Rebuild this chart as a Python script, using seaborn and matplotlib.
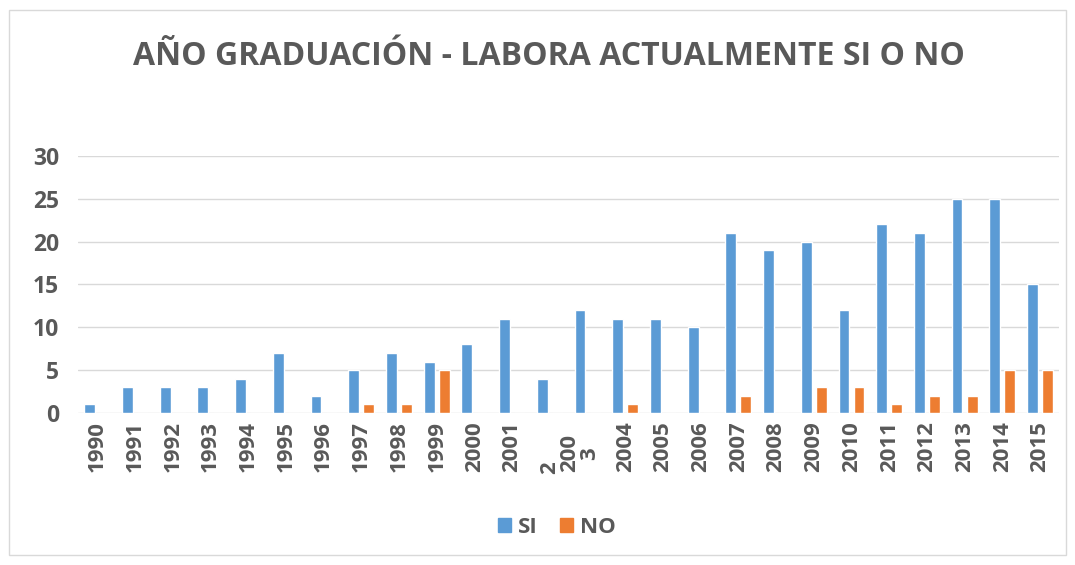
import pandas as pd
import matplotlib.pyplot as plt
import matplotlib.patches as mpatches
import matplotlib.transforms as mtransforms
import seaborn as sns

# data
years = [str(y) for y in range(1990, 2016)]
tick_labels = years.copy()
tick_labels[12] = "2"        # 2002 label is clipped in the original
tick_labels[13] = "200\n3"   # 2003 label wraps in the original
si = [1, 3, 3, 3, 4, 7, 2, 5, 7, 6, 8, 11, 4, 12, 11, 11, 10, 21, 19, 20, 12, 22, 21, 25, 25, 15]
no = [0, 0, 0, 0, 0, 0, 0, 1, 1, 5, 0, 0, 0, 0, 1, 0, 0, 2, 0, 3, 3, 1, 2, 2, 5, 5]

df = pd.DataFrame({'year': years * 2,
                   'value': si + no,
                   'serie': ['SI'] * len(years) + ['NO'] * len(years)})

sns.set_style("white")
plt.rcParams['font.family'] = ['Open Sans', 'DejaVu Sans']
gray = '#595959'

fig = plt.figure(figsize=(10.75, 5.65), dpi=100)
ax = fig.add_axes([0.073, 0.269, 0.912, 0.455])

sns.barplot(data=df, x='year', y='value', hue='serie', order=years,
            palette={'SI': '#5B9BD5', 'NO': '#ED7D31'}, saturation=1,
            width=0.8, gap=0.28, ax=ax, legend=False)

ax.set_ylim(0, 30)
ax.set_yticks(range(0, 31, 5))
ax.yaxis.grid(True, color='#D9D9D9', linewidth=1)
ax.set_axisbelow(True)
ax.set_xticks(range(len(years)))
ax.set_xticklabels(tick_labels, rotation=90, fontsize=16, fontweight='bold', color=gray,
                   linespacing=0.9)
ax.tick_params(axis='y', labelsize=16.5, labelcolor=gray, length=0, pad=14)
ax.tick_params(axis='x', length=0, pad=6)
for lab in ax.get_yticklabels():
    lab.set_fontweight('bold')

# the two broken labels sit lower in the original
xlabs = ax.get_xticklabels()
xlabs[12].set_transform(xlabs[12].get_transform() +
                        mtransforms.ScaledTranslation(0, -0.40, fig.dpi_scale_trans))
xlabs[13].set_transform(xlabs[13].get_transform() +
                        mtransforms.ScaledTranslation(-0.08, -0.13, fig.dpi_scale_trans))

ax.set_xlabel('')
ax.set_ylabel('')
sns.despine(left=True, bottom=True)

fig.suptitle('AÑO GRADUACIÓN - LABORA ACTUALMENTE SI O NO', x=0.511, y=0.93,
             fontsize=23, fontweight='bold', color=gray)

handles = [mpatches.Patch(color='#5B9BD5', label='SI'),
           mpatches.Patch(color='#ED7D31', label='NO')]
fig.legend(handles=handles, loc='center', bbox_to_anchor=(0.518, 0.066), ncol=2,
           frameon=False, handlelength=0.6, handleheight=0.6, handletextpad=0.3,
           columnspacing=1.0, prop={'weight': 'bold', 'size': 16}, labelcolor=gray)

fig.patches.append(mpatches.Rectangle((0.008, 0.017), 0.984, 0.965, transform=fig.transFigure,
                                      fill=False, edgecolor='#D9D9D9', linewidth=1))

fig.savefig('out.png', dpi=100, facecolor='white')
